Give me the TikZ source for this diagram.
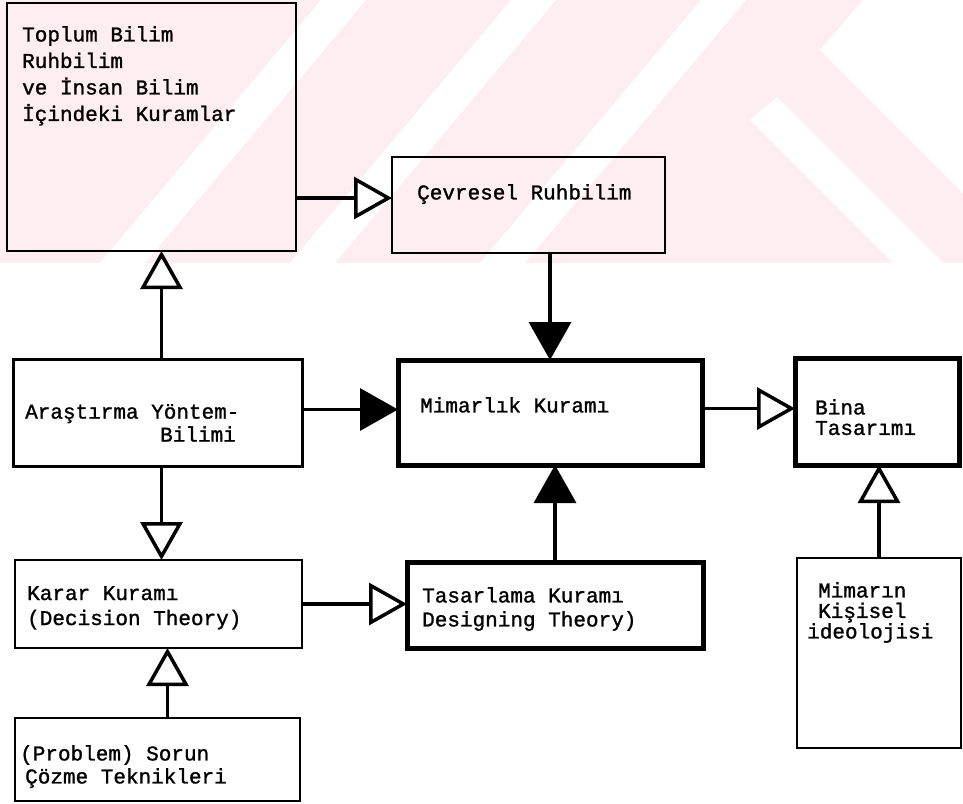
\documentclass[tikz,border=0pt]{standalone}
\usepackage{fontspec}
\newfontfamily\typefont[FakeBold=1.2]{Liberation Mono}
\usetikzlibrary{arrows.meta,positioning}
\definecolor{wmpink}{RGB}{253,239,241}

\tikzset{
	kutu/.style={draw, line width=2.5pt, inner sep=0pt, outer sep=0pt, anchor=north west},
	kalin/.style={kutu, line width=5pt},
	yazi/.style={font=\typefont\fontsize{21}{25}\selectfont, align=left, inner sep=0pt},
	bos/.style={line width=3.5pt, -{Triangle[open, length=38pt, width=42pt]}},
	dolu/.style={line width=3.5pt, -{Triangle[length=38pt, width=42pt]}},
}

\begin{document}
\begin{tikzpicture}[x=1pt,y=-1pt]
	\useasboundingbox (0,0) rectangle (963,803);
	% soluk filigran
	\begin{scope}
		\clip (0,0) rectangle (963,263);
		\fill[wmpink] (0,0) rectangle (963,263);
		\foreach \x in {100,290,480}
			\fill[white] (\x,263) -- ++(45,0) -- ++(221,-263) -- ++(-45,0) -- cycle;
		\fill[white] (863,0) -- (963,0) -- (963,193) -- (820,50) -- cycle;
		\fill[white] (750,120) -- (777,97) -- (943,263) -- (893,263) -- cycle;
	\end{scope}
	% kutular
	\node[kutu, minimum width=289, minimum height=248] (toplum) at (7,3) {};
	\node[kutu, minimum width=273, minimum height=96] (cevre) at (392,157) {};
	\node[kutu, line width=3pt, minimum width=289, minimum height=107] (arastirma) at (13,359) {};
	\node[kalin, minimum width=304, minimum height=105] (mimar) at (398,360) {};
	\node[kalin, minimum width=164, minimum height=107] (bina) at (795,358) {};
	\node[kutu, minimum width=287, minimum height=88] (karar) at (15,560) {};
	\node[kalin, minimum width=296, minimum height=86] (tasar) at (407,562) {};
	\node[kutu, minimum width=164, minimum height=190] (ideo) at (797,558) {};
	\node[kutu, minimum width=285, minimum height=83] (sorun) at (15,718) {};
	\draw[line width=3pt] (bina.north west) -- (bina.south west);
	% yazilar
	\node[yazi, font=\typefont\fontsize{21}{26.5}\selectfont, below right=23pt and 15pt of toplum.north west]
		{Toplum Bilim\\Ruhbilim\\ve İnsan Bilim\\İçindeki Kuramlar};
	\node[yazi, below right=27pt and 25pt of cevre.north west] {Çevresel Ruhbilim};
	\node[yazi, font=\typefont\fontsize{21}{23}\selectfont, below right=45pt and 12pt of arastirma.north west]
		{Araştırma Yöntem-\\\hspace*{135pt}Bilimi};
	\node[yazi, below right=37pt and 22pt of mimar.north west] {Mimarlık Kuramı};
	\node[yazi, font=\typefont\fontsize{21}{20.5}\selectfont, below right=41pt and 20pt of bina.north west]
		{Bina\\Tasarımı};
	\node[yazi, below right=26pt and 12pt of karar.north west] {Karar Kuramı\\(Decision Theory)};
	\node[yazi, font=\typefont\fontsize{21}{24}\selectfont, below right=25pt and 15pt of tasar.north west]
		{Tasarlama Kuramı\\Designing Theory)};
	\node[yazi, font=\typefont\fontsize{21}{20.5}\selectfont, below right=24pt and 10pt of ideo.north west]
		{\hspace*{11pt}Mimarın\\\hspace*{11pt}Kişisel\\ideolojisi};
	\node[yazi, font=\typefont\fontsize{21}{23}\selectfont, below right=27pt and 5pt of sorun.north west]
		{(Problem) Sorun\\\hspace*{5pt}Çözme Teknikleri};
	% oklar
	\draw[bos] ([yshift=7pt]cevre.west -| toplum.east) -- ([yshift=7pt]cevre.west);
	\draw[dolu] (cevre.south -| mimar.north) -- (mimar.north);
	\draw[bos] ([xshift=4pt]arastirma.north) -- ([xshift=4pt]arastirma.north |- toplum.south);
	\draw[bos] ([xshift=4pt]arastirma.south) -- ([xshift=4pt]arastirma.south |- karar.north);
	\draw[dolu] ([yshift=3pt]arastirma.east) -- ([yshift=3pt]arastirma.east -| mimar.west);
	\draw[bos] ([xshift=10pt]sorun.north) -- ([xshift=10pt]sorun.north |- karar.south);
	\draw[bos] (karar.east) -- (karar.east -| tasar.west);
	\draw[dolu] (tasar.north) -- (tasar.north |- mimar.south);
	\draw[bos] ([yshift=4pt]mimar.east) -- ([yshift=4pt]mimar.east -| bina.west);
	\draw[bos] (ideo.north) -- (ideo.north |- bina.south);
\end{tikzpicture}
\end{document}
